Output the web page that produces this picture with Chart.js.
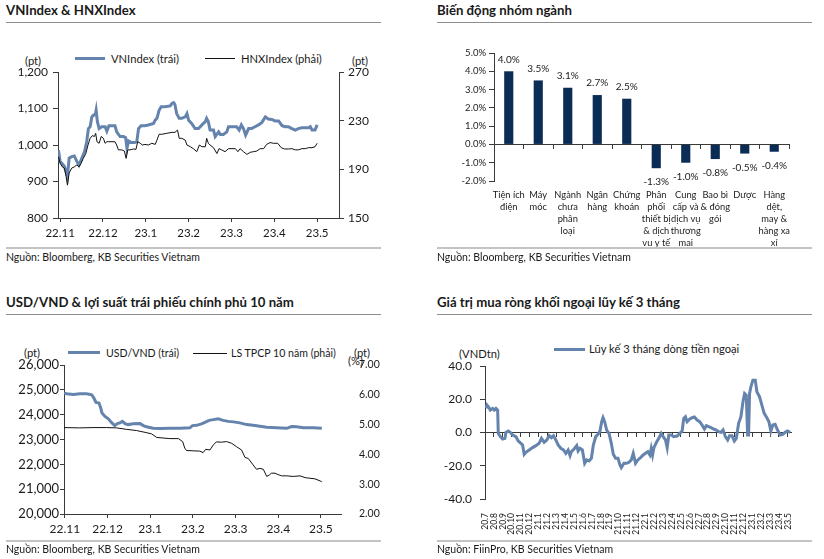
<!DOCTYPE html>
<html>
<head>
<meta charset="utf-8">
<script src="https://cdn.jsdelivr.net/npm/chart.js@4.4.0/dist/chart.umd.min.js"></script>
<style>
  body { margin: 0; background: #fff; font-family: Lato, sans-serif; color: #1a1a1a; }
  #page { position: relative; width: 824px; height: 559px; overflow: hidden; }
  .t { position: absolute; white-space: nowrap; line-height: 1; }
  .title { font-weight: bold; font-size: 13.2px; }
  .src { font-size: 10.5px; }
  .leg { font-size: 11.2px; }
  .leg.s { font-size: 10.6px; }
  .rule { position: absolute; height: 0; border-top: 1px solid #8c8c8c; }
  .rule.b { border-top: 2px solid #c4c4c4; }
  .ln { position: absolute; height: 3px; background: #6483ad; }
  .ln.k { height: 1px; background: #111; }
  canvas { position: absolute; }
</style>
</head>
<body>
<div id="page">
  <!-- panel 1 -->
  <div class="t title" style="left:6px;top:4px">VNIndex &amp; HNXIndex</div>
  <div class="rule" style="left:6px;top:22px;width:375px"></div>
  <div class="ln" style="left:75px;top:57px;width:30px"></div>
  <div class="t leg" style="left:111px;top:53px">VNIndex (trái)</div>
  <div class="ln k" style="left:205px;top:58px;width:30px"></div>
  <div class="t leg" style="left:241px;top:53px">HNXIndex (phải)</div>
  <div class="t leg" style="left:25px;top:55px">(pt)</div>
  <div class="t leg" style="left:352px;top:55px">(pt)</div>
  <canvas id="c1" width="400" height="215" style="left:0;top:30px"></canvas>
  <div class="rule b" style="left:6px;top:247px;width:375px"></div>
  <div class="t src" style="left:6px;top:252px">Nguồn: Bloomberg, KB Securities Vietnam</div>

  <!-- panel 2 -->
  <div class="t title" style="left:437px;top:4px">Biến động nhóm ngành</div>
  <div class="rule" style="left:437px;top:22px;width:375px"></div>
  <canvas id="c2" width="400" height="225" style="left:412px;top:30px"></canvas>
  <div class="rule b" style="left:437px;top:247px;width:375px"></div>
  <div class="t src" style="left:437px;top:252px">Nguồn: Bloomberg, KB Securities Vietnam</div>

  <!-- panel 3 -->
  <div class="t title" style="left:6px;top:296px">USD/VND &amp; lợi suất trái phiếu chính phủ 10 năm</div>
  <div class="rule" style="left:6px;top:314px;width:375px"></div>
  <div class="ln" style="left:68px;top:351px;width:32px"></div>
  <div class="t leg s" style="left:106px;top:348px">USD/VND (trái)</div>
  <div class="ln k" style="left:193px;top:353px;width:34px"></div>
  <div class="t leg s" style="left:231px;top:348px">LS TPCP 10 năm (phải)</div>
  <div class="t leg" style="left:24px;top:347px">(pt)</div>
  <div class="t leg" style="left:354px;top:347px">(pt)</div>
  <div class="t leg" style="left:348px;top:355px">(%)</div>
  <canvas id="c3" width="400" height="225" style="left:0;top:320px"></canvas>
  <div class="rule b" style="left:6px;top:540px;width:375px"></div>
  <div class="t src" style="left:6px;top:544px">Nguồn: Bloomberg, KB Securities Vietnam</div>

  <!-- panel 4 -->
  <div class="t title" style="left:437px;top:296px">Giá trị mua ròng khối ngoại lũy kế 3 tháng</div>
  <div class="rule" style="left:437px;top:314px;width:375px"></div>
  <div class="ln" style="left:554px;top:348px;width:31px"></div>
  <div class="t leg" style="left:589px;top:343px">Lũy kế 3 tháng dòng tiền ngoại</div>
  <div class="t leg" style="left:459px;top:348px">(VNDtn)</div>
  <canvas id="c4" width="400" height="225" style="left:412px;top:320px"></canvas>
  <div class="rule b" style="left:437px;top:540px;width:375px"></div>
  <div class="t src" style="left:437px;top:544px">Nguồn: FiinPro, KB Securities Vietnam</div>
</div>

<script>
// ---- data ----
// time values are in months counted from the first axis label
const monthLabels = ['22.11', '22.12', '23.1', '23.2', '23.3', '23.4', '23.5'];

const vnT = [-0.04,0.00,0.04,0.10,0.16,0.17,0.21,0.27,0.33,0.39,0.44,0.51,0.57,0.62,0.66,0.70,0.74,0.78,0.82,0.84,
  0.87,0.91,0.97,1.05,1.09,1.14,1.21,1.28,1.32,1.40,1.48,1.53,1.56,1.60,1.66,1.74,1.79,1.83,1.89,1.97,
  2.06,2.18,2.22,2.26,2.31,2.36,2.45,2.57,2.61,2.65,2.68,2.72,2.78,2.84,2.92,2.96,3.00,3.07,3.15,3.23,
  3.31,3.39,3.42,3.46,3.50,3.58,3.62,3.70,3.74,3.81,3.89,3.93,4.01,4.12,4.18,4.23,4.28,4.33,4.40,4.47,
  4.55,4.63,4.71,4.79,4.86,4.94,5.02,5.10,5.18,5.25,5.33,5.41,5.49,5.56,5.64,5.72,5.80,5.84,5.88,5.95,6.00];
const vnIndex = [986,955,950,941,918,914,964,968,970,955,945,965,982,1009,1045,1050,1077,1082,1082,1095,
  1064,1045,1050,1050,1038,1053,1053,1053,1036,1023,1023,1020,991,1011,1007,1007,1009,1045,1053,1053,
  1055,1059,1068,1073,1095,1105,1105,1107,1114,1116,1111,1086,1073,1073,1077,1086,1068,1059,1045,1045,
  1055,1064,1073,1064,1041,1041,1023,1036,1029,1029,1036,1050,1050,1050,1041,1055,1045,1027,1045,1045,
  1050,1055,1062,1077,1071,1070,1066,1066,1053,1050,1050,1045,1041,1045,1047,1047,1047,1050,1041,1041,1055];

const hnxT = [-0.04,0.00,0.05,0.10,0.14,0.17,0.21,0.27,0.33,0.39,0.44,0.49,0.54,0.60,0.65,0.70,0.75,0.80,0.83,0.86,
  0.91,0.96,1.01,1.05,1.09,1.13,1.21,1.28,1.32,1.36,1.44,1.50,1.54,1.58,1.63,1.71,1.77,1.81,1.87,1.92,
  1.98,2.06,2.14,2.22,2.26,2.31,2.37,2.49,2.61,2.68,2.74,2.78,2.84,2.92,2.96,3.04,3.11,3.19,3.25,3.31,
  3.39,3.42,3.46,3.50,3.58,3.66,3.71,3.77,3.85,3.93,4.01,4.09,4.15,4.20,4.28,4.36,4.44,4.51,4.59,4.67,
  4.75,4.82,4.90,4.98,5.08,5.16,5.24,5.33,5.41,5.49,5.56,5.64,5.72,5.80,5.88,5.95,6.00];
const hnxIndex = [200.4,195,192,191,184,177,187,191,192,193.6,192,195,199,203,210,215.5,217.7,217,219.6,212.7,
  211.4,217,215.5,211.4,212.7,212.7,212.7,212.7,210,206,206,205,199,206,206,206.7,206.4,212.7,211.4,210,
  210.5,210,211.4,210.5,214,218.8,218.8,219.6,220.4,220.4,222.3,215.5,215.5,214,210,208.6,207,204.5,210,208.6,
  208.6,215.5,211.4,210,207.8,203,207,206,204.5,207,207,207,204.5,207,204.5,202.3,204,204.5,205,207,
  207,210.5,212,211.4,211.4,207.8,206.7,206.7,207,206,206,207,207,207.8,207.8,208.6,211.4];

const sectors = [
  ['Tiện ích', 'điện'], ['Máy', 'móc'], ['Ngành', 'chưa', 'phân', 'loại'], ['Ngân', 'hàng'],
  ['Chứng', 'khoán'], ['Phân', 'phối', 'thiết bị', '& dịch', 'vụ y tế'],
  ['Cung', 'cấp và', 'dịch vụ', 'thương', 'mại'], ['Bao bì', '& đóng', 'gói'], ['Dược'],
  ['Hàng', 'dệt,', 'may &', 'hàng xa', 'xỉ']
];
const sectorChange = [4.0, 3.5, 3.1, 2.7, 2.5, -1.3, -1.0, -0.8, -0.5, -0.4];

const usdT = [-0.02,0.04,0.20,0.35,0.51,0.63,0.68,0.73,0.80,0.84,0.87,0.94,1.02,1.09,1.17,1.23,1.29,1.35,1.41,1.48,
  1.60,1.76,1.84,1.91,2.07,2.23,2.46,2.70,2.93,2.99,3.09,3.20,3.28,3.38,3.48,3.59,3.71,3.83,3.95,4.10,
  4.26,4.41,4.57,4.73,4.96,5.20,5.31,5.43,5.59,5.82,6.02];
const usdVnd = [24870,24840,24810,24840,24840,24800,24670,24490,24470,24270,24070,23930,23830,23690,23560,23640,23670,23730,23640,23600,
  23630,23640,23560,23510,23450,23440,23450,23450,23470,23560,23570,23630,23690,23770,23800,23830,23770,23730,23710,23670,
  23600,23570,23530,23490,23470,23450,23520,23510,23470,23470,23450];

const bondT = [-0.02,0.35,0.66,0.98,1.21,1.45,1.68,1.88,2.03,2.15,2.30,2.46,2.66,2.76,2.81,2.85,3.01,3.16,3.24,3.30,
  3.40,3.48,3.55,3.67,3.79,3.91,4.02,4.14,4.22,4.30,4.41,4.49,4.57,4.65,4.73,4.79,4.84,4.92,5.00,5.08,
  5.20,5.35,5.51,5.63,5.74,5.86,5.98,6.02];
const bondYield = [4.90,4.89,4.90,4.90,4.89,4.84,4.80,4.74,4.69,4.57,4.55,4.53,4.53,4.43,4.21,4.13,4.12,4.11,4.06,4.17,
  4.15,4.32,4.42,4.41,4.43,4.37,4.26,4.15,3.90,3.86,3.65,3.50,3.53,3.50,3.26,3.31,3.37,3.37,3.32,3.28,
  3.28,3.26,3.28,3.22,3.20,3.18,3.11,3.08];

const flowMonths = ['20.7','20.8','20.9','20.10','20.11','20.12',
  '21.1','21.2','21.3','21.4','21.5','21.6','21.7','21.8','21.9','21.10','21.11','21.12',
  '22.1','22.2','22.3','22.4','22.5','22.6','22.7','22.8','22.9','22.10','22.11','22.12',
  '23.1','23.2','23.3','23.4','23.5'];
const flowT = [0.11,0.22,0.37,0.60,0.86,1.04,1.23,1.42,1.49,1.72,1.98,2.24,2.35,2.61,2.84,3.10,3.47,3.73,4.03,4.22,
  4.40,4.59,4.96,5.34,5.71,6.08,6.34,6.64,6.94,7.20,7.46,7.69,7.95,8.21,8.51,8.81,9.07,9.33,9.55,9.70,
  10.00,10.30,10.45,10.67,10.93,11.19,11.42,11.68,11.94,12.16,12.43,12.69,12.91,13.10,13.25,13.43,13.66,13.92,14.18,14.40,
  14.66,14.93,15.15,15.30,15.60,15.90,16.16,16.42,16.64,16.90,17.16,17.46,17.76,18.02,18.28,18.51,18.66,18.81,18.96,19.25,
  19.51,19.78,20.00,20.26,20.45,20.63,20.90,21.19,21.57,21.87,22.13,22.31,22.50,22.69,22.99,23.25,23.51,23.81,24.10,24.37,
  24.63,24.85,25.11,25.37,25.67,25.97,26.23,26.49,26.72,26.98,27.24,27.46,27.72,27.99,28.21,28.47,28.73,28.96,29.14,29.33,
  29.48,29.59,29.70,29.85,30.07,30.34,30.52,30.82,31.08,31.34,31.64,31.87,32.09,32.31,32.57,32.84,33.13,33.43,33.69,33.96,34.25];
const foreignFlow3m = [14.5,16.5,15.5,13.5,14.5,13.5,14.5,13.5,-0.5,-2.5,-3.9,-3.5,0.1,0.9,0.1,-1.5,-2.5,-5.1,-6.5,-7.5,
  -13.1,-11.9,-10.5,-9.1,-7.9,-6.5,-3.5,-5.9,-4.5,-1.9,-3.1,-1.9,-4.5,-7.5,-9.5,-10.5,-12.5,-10.5,-13.9,-11.5,
  -9.9,-7.9,-11.1,-9.5,-10.5,-18.5,-16.5,-17.1,-15.5,-7.5,-2.5,-1.1,0.9,6.5,8.9,6.5,1.5,-0.5,-6.5,-13.1,
  -15.5,-15.5,-19.5,-21.1,-18.5,-18.5,-17.9,-16.5,-12.5,-18.5,-16.5,-15.1,-13.5,-12.5,-11.5,-13.5,-9.5,-13.5,-9.1,-5.9,
  -3.5,-0.5,-2.5,-4.5,-9.1,-1.5,-1.5,-2.5,-2.1,-0.5,0.9,8.5,9.5,6.5,8.1,8.9,9.3,7.5,6.5,4.5,
  2.1,4.1,3.5,2.9,2.1,1.5,0.5,0.1,1.5,-2.5,-4.5,-1.9,-1.9,-5.1,-3.5,5.5,9.5,18.5,23.5,22.5,
  -1.5,-1.5,23.5,27.5,31.5,31.5,24.5,21.5,16.5,11.5,8.9,6.5,0.9,4.5,4.9,1.5,-1.5,-1.1,0.1,0.9,0.1];

// ---- styling ----
const BLUE = '#6483ad';
const NAVY = '#0b2c55';
const AX = '#3a3a3a';
const TXT = '#1a1a1a';

Chart.defaults.font.family = 'Lato, sans-serif';
Chart.defaults.color = TXT;
Chart.defaults.animation = false;
Chart.defaults.plugins.legend.display = false;
Chart.defaults.plugins.tooltip.enabled = false;

const pts = (t, v) => t.map((x, i) => ({ x: x, y: v[i] }));

function monthAxis(labels, min, max, h, size, extra) {
  return Object.assign({
    type: 'linear', min: min, max: max,
    afterBuildTicks: s => { s.ticks = labels.map((_, i) => ({ value: i })); },
    afterFit: s => { s.height = h; },
    ticks: { autoSkip: false, maxRotation: 0, padding: 4, color: TXT, font: { size: size },
      callback: v => labels[v] },
    grid: { drawOnChartArea: false, tickLength: 4, color: AX },
    border: { color: AX }
  }, extra || {});
}

function valueAxis(pos, w, min, max, step, size, fmt, pad) {
  return {
    position: pos, min: min, max: max,
    afterFit: s => { s.width = w; },
    ticks: { stepSize: step, padding: pad, color: TXT, font: { size: size }, callback: fmt },
    grid: { drawOnChartArea: false, tickLength: 5, color: AX },
    border: { color: AX }
  };
}

// ---- VNIndex & HNXIndex ----
new Chart(document.getElementById('c1'), {
  type: 'line',
  data: {
    datasets: [
      { data: pts(hnxT, hnxIndex), yAxisID: 'y1', borderColor: '#111', borderWidth: 1, pointRadius: 0, order: 0 },
      { data: pts(vnT, vnIndex), yAxisID: 'y', borderColor: BLUE, borderWidth: 3, pointRadius: 0, order: 1 }
    ]
  },
  options: {
    responsive: false, devicePixelRatio: 1,
    layout: { padding: { top: 42, right: 0, left: 0, bottom: 0 } },
    scales: {
      x: monthAxis(monthLabels, -0.05, 6.51, 27, 11.5),
      y: valueAxis('left', 58, 800, 1200, 100, 12, v => v.toLocaleString('en-US'), 5),
      y1: valueAxis('right', 61, 150, 270, 40, 12, v => v, 4)
    }
  }
});

// ---- sector bars ----
const barLabels = {
  id: 'barLabels',
  afterDatasetsDraw(chart) {
    const ctx = chart.ctx;
    ctx.save();
    ctx.font = '10px Lato, sans-serif';
    ctx.fillStyle = TXT;
    ctx.textAlign = 'center';
    ctx.textBaseline = 'middle';
    chart.getDatasetMeta(0).data.forEach((bar, i) => {
      const v = sectorChange[i];
      ctx.fillText(v.toFixed(1) + '%', bar.x, v >= 0 ? bar.y - 12 : bar.y + 14);
    });
    ctx.restore();
  }
};

new Chart(document.getElementById('c2'), {
  type: 'bar',
  data: {
    labels: sectors,
    datasets: [{ data: sectorChange, backgroundColor: NAVY, barPercentage: 0.31, categoryPercentage: 1 }]
  },
  options: {
    responsive: false, devicePixelRatio: 1,
    layout: { padding: { top: 23, right: 23, left: 0, bottom: 0 } },
    scales: {
      x: {
        afterFit: s => { s.height = 74; },
        ticks: { autoSkip: false, maxRotation: 0, padding: 0, color: TXT, font: { size: 9.3, lineHeight: 1.3 } },
        grid: { display: false }, border: { display: false }
      },
      x0: {
        type: 'category', labels: sectors, position: { y: 0 }, offset: true,
        ticks: { display: false },
        grid: { offset: true, drawOnChartArea: false, tickLength: 4, color: AX },
        border: { color: AX }
      },
      y: valueAxis('left', 82, -2, 5, 1, 9.5, v => v.toFixed(1) + '%', 3)
    }
  },
  plugins: [barLabels]
});

// ---- USD/VND & 10y bond yield ----
const y3 = valueAxis('left', 64, 20000, 26000, 1000, 13, v => v.toLocaleString('en-US'), 1);
y3.grid.tickLength = 4;
const y3r = valueAxis('right', 59, 2, 7, 1, 10.5, v => v.toFixed(2), 10);
y3r.grid = { display: false };
y3r.border = { display: false };

new Chart(document.getElementById('c3'), {
  type: 'line',
  data: {
    datasets: [
      { data: pts(bondT, bondYield), yAxisID: 'y1', borderColor: '#111', borderWidth: 1, pointRadius: 0, order: 0 },
      { data: pts(usdT, usdVnd), yAxisID: 'y', borderColor: BLUE, borderWidth: 3, pointRadius: 0, order: 1 }
    ]
  },
  options: {
    responsive: false, devicePixelRatio: 1,
    layout: { padding: { top: 45, right: 0, left: 0, bottom: 0 } },
    scales: {
      x: monthAxis(monthLabels, -0.02, 6.47, 31, 12),
      y: y3,
      y1: y3r
    }
  }
});

// ---- foreign net buying, 3M cumulative ----
new Chart(document.getElementById('c4'), {
  type: 'line',
  data: {
    datasets: [
      { data: pts(flowT, foreignFlow3m), borderColor: BLUE, borderWidth: 3, pointRadius: 0 }
    ]
  },
  options: {
    responsive: false, devicePixelRatio: 1,
    layout: { padding: { top: 46, right: 21, left: 0, bottom: 0 } },
    scales: {
      x: monthAxis(flowMonths, 0, 34.35, 46, 8.5, {
        ticks: { autoSkip: false, minRotation: 90, maxRotation: 90, padding: 6, color: TXT, font: { size: 8.5 },
          callback: v => flowMonths[v] },
        grid: { display: false }, border: { display: false }
      }),
      x0: monthAxis(flowMonths, 0, 34.35, 0, 8, {
        position: { y: 0 },
        ticks: { display: false },
        grid: { drawOnChartArea: false, tickLength: 4, color: AX }
      }),
      y: valueAxis('left', 73, -40, 40, 20, 12, v => v.toFixed(1), 8)
    }
  }
});
</script>
</body>
</html>
